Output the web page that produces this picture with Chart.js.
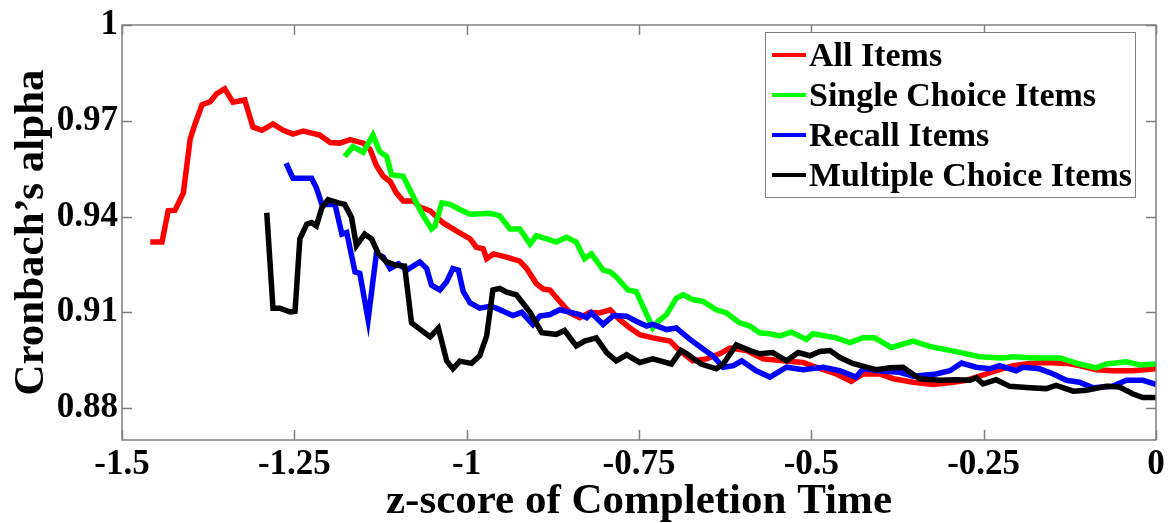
<!DOCTYPE html>
<html>
<head>
<meta charset="utf-8">
<script src="https://cdn.jsdelivr.net/npm/chart.js@4.4.1/dist/chart.umd.min.js"></script>
<style>
  html, body { margin: 0; padding: 0; background: #fff; }
  #wrap { width: 1176px; height: 523px; }
</style>
</head>
<body>
<div id="wrap"><canvas id="alphaChart" width="1176" height="523"></canvas></div>
<script>
// ---- data ----
const seriesNames = ['All Items', 'Single Choice Items', 'Recall Items', 'Multiple Choice Items'];
const seriesColors = ['#ff0000', '#00ff00', '#0000ff', '#000000'];

const xTickValues = [-1.5, -1.25, -1, -0.75, -0.5, -0.25, 0];
const xTickLabels = ['-1.5', '-1.25', '-1', '-0.75', '-0.5', '-0.25', '0'];
const yTickValues = [0.88, 0.91, 0.94, 0.97, 1];
const yTickLabels = ['0.88', '0.91', '0.94', '0.97', '1'];

const allX = [-1.459,-1.442,-1.433,-1.423,-1.411,-1.401,-1.394,-1.384,-1.372,-1.363,-1.351,-1.339,-1.322,-1.310,-1.297,-1.281,-1.266,-1.252,-1.237,-1.213,-1.198,-1.184,-1.169,-1.150,-1.140,-1.131,-1.121,-1.111,-1.102,-1.092,-1.077,-1.068,-1.053,-1.034,-1.015,-0.995,-0.986,-0.976,-0.971,-0.961,-0.942,-0.923,-0.913,-0.899,-0.889,-0.879,-0.865,-0.850,-0.836,-0.821,-0.807,-0.792,-0.778,-0.763,-0.749,-0.730,-0.705,-0.691,-0.672,-0.652,-0.633,-0.618,-0.594,-0.570,-0.541,-0.512,-0.493,-0.464,-0.442,-0.425,-0.401,-0.381,-0.352,-0.323,-0.294,-0.275,-0.256,-0.232,-0.207,-0.183,-0.159,-0.130,-0.111,-0.087,-0.063,-0.034,0];
const allY = [0.932,0.932,0.9418,0.942,0.9474,0.9644,0.969,0.975,0.976,0.9784,0.980,0.9758,0.9765,0.968,0.967,0.969,0.967,0.9658,0.9668,0.9655,0.9632,0.963,0.9641,0.963,0.961,0.956,0.9526,0.951,0.9474,0.9449,0.9449,0.943,0.9418,0.938,0.9355,0.933,0.9304,0.9299,0.9268,0.9283,0.9273,0.926,0.9237,0.919,0.9173,0.917,0.9134,0.9098,0.9083,0.910,0.9098,0.9108,0.9077,0.9051,0.903,0.902,0.901,0.898,0.8948,0.8954,0.897,0.8988,0.898,0.8954,0.8948,0.8943,0.8928,0.8907,0.8884,0.8907,0.8907,0.8892,0.8881,0.8874,0.8881,0.8887,0.890,0.8917,0.8933,0.894,0.8943,0.894,0.8933,0.892,0.8917,0.8917,0.8923];

const singleX = [-1.177,-1.165,-1.150,-1.136,-1.126,-1.116,-1.109,-1.092,-1.085,-1.073,-1.063,-1.051,-1.046,-1.036,-1.024,-1.010,-0.995,-0.966,-0.952,-0.937,-0.923,-0.908,-0.899,-0.884,-0.870,-0.855,-0.841,-0.829,-0.819,-0.802,-0.792,-0.783,-0.766,-0.754,-0.730,-0.722,-0.710,-0.696,-0.686,-0.672,-0.657,-0.638,-0.623,-0.604,-0.589,-0.575,-0.560,-0.546,-0.529,-0.507,-0.498,-0.464,-0.444,-0.425,-0.408,-0.384,-0.352,-0.326,-0.290,-0.256,-0.222,-0.207,-0.178,-0.139,-0.111,-0.087,-0.072,-0.043,-0.023,0];
const singleY = [0.9588,0.9619,0.9601,0.9655,0.9603,0.9588,0.9531,0.9526,0.9495,0.9443,0.9402,0.9361,0.937,0.9443,0.9438,0.9422,0.9407,0.941,0.9402,0.9361,0.9361,0.9314,0.934,0.933,0.932,0.9335,0.932,0.9268,0.9283,0.9232,0.9227,0.9211,0.917,0.9165,0.9051,0.9072,0.9093,0.9144,0.9155,0.914,0.9134,0.9108,0.9098,0.9067,0.9057,0.9036,0.9033,0.9026,0.9038,0.9015,0.9033,0.902,0.9005,0.902,0.902,0.899,0.901,0.8992,0.8977,0.8961,0.8957,0.8961,0.8957,0.8957,0.8938,0.8926,0.8938,0.8945,0.8935,0.8938];

const recallX = [-1.262,-1.252,-1.225,-1.218,-1.210,-1.191,-1.181,-1.174,-1.162,-1.155,-1.143,-1.131,-1.121,-1.111,-1.099,-1.087,-1.068,-1.058,-1.051,-1.039,-1.029,-1.020,-1.012,-1.005,-0.995,-0.981,-0.966,-0.957,-0.933,-0.920,-0.904,-0.894,-0.879,-0.865,-0.836,-0.826,-0.819,-0.802,-0.787,-0.768,-0.754,-0.739,-0.730,-0.710,-0.696,-0.676,-0.657,-0.643,-0.628,-0.613,-0.601,-0.580,-0.560,-0.536,-0.512,-0.483,-0.459,-0.435,-0.425,-0.396,-0.372,-0.352,-0.319,-0.299,-0.282,-0.261,-0.241,-0.227,-0.203,-0.193,-0.169,-0.149,-0.130,-0.111,-0.092,-0.063,-0.043,-0.019,0];
const recallY = [0.9567,0.952,0.952,0.949,0.9438,0.9438,0.9345,0.935,0.9227,0.9222,0.9077,0.9283,0.9273,0.9237,0.9252,0.9232,0.9258,0.9237,0.9185,0.917,0.9196,0.9237,0.9232,0.9165,0.9129,0.9113,0.9119,0.9113,0.909,0.910,0.9062,0.9088,0.9093,0.9108,0.9093,0.9083,0.9098,0.9062,0.909,0.9088,0.9072,0.9057,0.9062,0.9046,0.9051,0.9015,0.8985,0.8964,0.8928,0.8933,0.8948,0.8917,0.8897,0.8928,0.892,0.8928,0.8917,0.8897,0.8923,0.8915,0.8912,0.890,0.8907,0.8917,0.8941,0.8928,0.8923,0.8933,0.8917,0.8928,0.8923,0.8907,0.8887,0.8881,0.8864,0.8868,0.8887,0.8887,0.8874];

const multiX = [-1.290,-1.281,-1.271,-1.256,-1.249,-1.242,-1.232,-1.225,-1.218,-1.210,-1.201,-1.186,-1.177,-1.167,-1.160,-1.148,-1.138,-1.128,-1.116,-1.102,-1.090,-1.080,-1.053,-1.041,-1.029,-1.020,-1.010,-0.993,-0.981,-0.971,-0.962,-0.952,-0.942,-0.928,-0.908,-0.891,-0.870,-0.858,-0.841,-0.829,-0.812,-0.797,-0.783,-0.768,-0.749,-0.730,-0.703,-0.689,-0.681,-0.660,-0.638,-0.628,-0.609,-0.589,-0.575,-0.556,-0.536,-0.519,-0.502,-0.488,-0.473,-0.459,-0.440,-0.420,-0.406,-0.386,-0.367,-0.343,-0.314,-0.290,-0.270,-0.261,-0.251,-0.232,-0.212,-0.183,-0.159,-0.145,-0.120,-0.101,-0.072,-0.053,-0.034,-0.019,0];
const multiY = [0.9412,0.9113,0.9113,0.9101,0.9103,0.933,0.9376,0.9381,0.9371,0.9428,0.9453,0.9443,0.9438,0.9397,0.9309,0.9345,0.933,0.9283,0.9258,0.9247,0.9245,0.9067,0.9023,0.905,0.8948,0.8923,0.8947,0.894,0.8964,0.9026,0.917,0.9175,0.9163,0.9155,0.910,0.9036,0.9031,0.9043,0.8995,0.901,0.902,0.8974,0.8948,0.8967,0.8943,0.8954,0.8938,0.8981,0.8971,0.8938,0.8923,0.8938,0.8998,0.898,0.897,0.8974,0.8948,0.8974,0.8964,0.8977,0.898,0.8959,0.894,0.8928,0.892,0.8926,0.8928,0.8892,0.8887,0.8889,0.8887,0.8895,0.8876,0.8889,0.8868,0.8864,0.8861,0.8871,0.8853,0.8856,0.8868,0.8866,0.8845,0.8833,0.8833];

// ---- build datasets ----
const FONT = "'Liberation Serif', 'Times New Roman', serif";
const seriesX = [allX, singleX, recallX, multiX];
const seriesY = [allY, singleY, recallY, multiY];

function toPoints(xs, ys) {
  return xs.map((x, i) => ({ x: x, y: ys[i] }));
}

const datasets = seriesNames.map((name, i) => ({
  label: name,
  data: toPoints(seriesX[i], seriesY[i]),
  borderColor: seriesColors[i],
  backgroundColor: seriesColors[i],
  borderWidth: 5.5,
  pointRadius: 0,
  tension: 0,
  fill: false,
  order: seriesNames.length - i   // later series on top, like MATLAB
}));

// MATLAB-style box with inward ticks on all four sides
const boxTicks = {
  id: 'boxTicks',
  afterDatasetsDraw(chart) {
    const { ctx, chartArea: a, scales } = chart;
    ctx.save();
    ctx.strokeStyle = '#808080';
    ctx.lineWidth = 1.5;
    ctx.beginPath();
    xTickValues.forEach(v => {
      const px = Math.round(scales.x.getPixelForValue(v)) + 0.5;
      ctx.moveTo(px, a.bottom); ctx.lineTo(px, a.bottom - 10);
      ctx.moveTo(px, a.top); ctx.lineTo(px, a.top + 10);
    });
    yTickValues.forEach(v => {
      const py = Math.round(scales.y.getPixelForValue(v)) + 0.5;
      ctx.moveTo(a.left, py); ctx.lineTo(a.left + 10, py);
      ctx.moveTo(a.right, py); ctx.lineTo(a.right - 10, py);
    });
    ctx.stroke();
    ctx.strokeRect(a.left, a.top, a.right - a.left, a.bottom - a.top);
    ctx.restore();
  }
};

// boxed legend in the upper right corner
const boxLegend = {
  id: 'boxLegend',
  afterDraw(chart) {
    const ctx = chart.ctx;
    const left = 765, top = 32, w = 370, h = 165;
    ctx.save();
    ctx.fillStyle = '#fff';
    ctx.fillRect(left, top, w, h);
    ctx.strokeStyle = '#808080';
    ctx.lineWidth = 1;
    ctx.strokeRect(left + 0.5, top + 0.5, w, h);
    ctx.font = 'bold 34px ' + FONT;
    ctx.textBaseline = 'middle';
    chart.data.datasets.forEach((ds, i) => {
      const cy = 55 + i * 40;
      ctx.strokeStyle = ds.borderColor;
      ctx.lineWidth = 4;
      ctx.beginPath();
      ctx.moveTo(772, cy); ctx.lineTo(806, cy);
      ctx.stroke();
      ctx.fillStyle = '#000';
      ctx.fillText(ds.label, 809, cy + 2);
    });
    ctx.restore();
  }
};

new Chart(document.getElementById('alphaChart'), {
  type: 'line',
  data: { datasets: datasets },
  options: {
    responsive: false,
    animation: false,
    layout: { padding: { top: 20, right: 20, bottom: 0, left: 0 } },
    plugins: {
      legend: { display: false },
      tooltip: { enabled: false }
    },
    scales: {
      x: {
        type: 'linear',
        min: -1.5,
        max: 0,
        grid: { display: false, drawTicks: false },
        border: { display: false },
        afterBuildTicks: s => { s.ticks = xTickValues.map(v => ({ value: v })); },
        afterFit: s => { s.height = 83; },
        ticks: {
          autoSkip: false,
          maxRotation: 0,
          padding: 4,
          color: '#000',
          font: { family: FONT, size: 35, weight: 'bold' },
          callback: (v, i) => xTickLabels[i]
        },
        title: {
          display: true,
          text: 'z-score of Completion Time',
          color: '#000',
          padding: { top: 0, bottom: -5 },
          font: { family: FONT, size: 43, weight: 'bold' }
        }
      },
      y: {
        type: 'linear',
        min: 0.87,
        max: 1,
        grid: { display: false, drawTicks: false },
        border: { display: false },
        afterBuildTicks: s => { s.ticks = yTickValues.map(v => ({ value: v })); },
        afterFit: s => { s.width = 122; },
        ticks: {
          autoSkip: false,
          padding: 4,
          color: '#000',
          font: { family: FONT, size: 35, weight: 'bold' },
          callback: (v, i) => yTickLabels[i]
        },
        title: {
          display: true,
          text: 'Cronbach\u2019s alpha',
          color: '#000',
          padding: { top: 6, bottom: 0 },
          font: { family: FONT, size: 43, weight: 'bold' }
        }
      }
    }
  },
  plugins: [boxTicks, boxLegend]
});
</script>
</body>
</html>
